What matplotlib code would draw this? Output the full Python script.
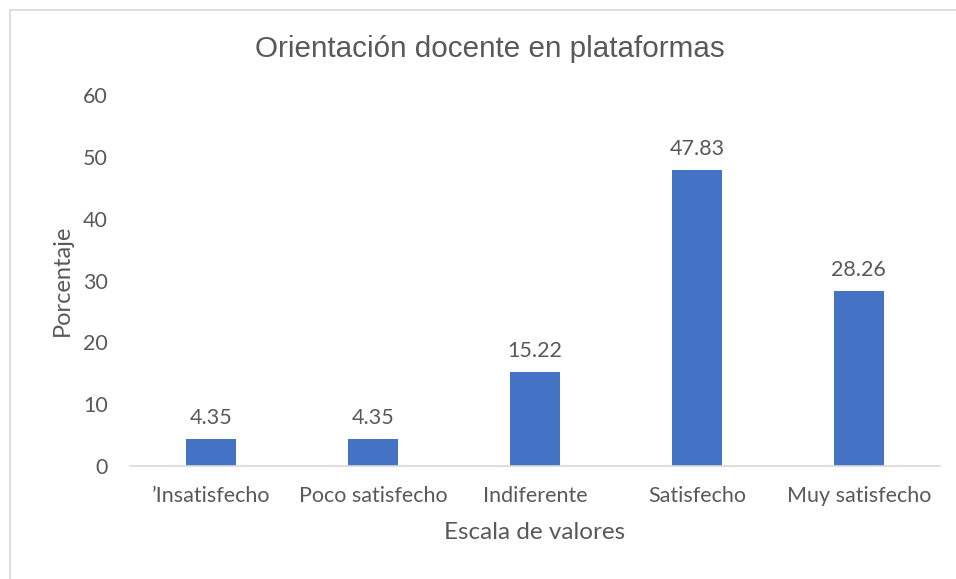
import matplotlib
matplotlib.use("Agg")
import matplotlib.pyplot as plt
from matplotlib.patches import Rectangle

categories = ["\u2019Insatisfecho", "Poco satisfecho", "Indiferente", "Satisfecho", "Muy satisfecho"]
values = [4.35, 4.35, 15.22, 47.83, 28.26]
yticks = [0, 10, 20, 30, 40, 50, 60]

txt = "#595959"
plt.rcParams['font.family'] = ['Lato', 'DejaVu Sans']

fig = plt.figure(figsize=(9.56, 5.79), dpi=100)
ax = fig.add_axes([0.136, 0.195, 0.847, 0.641])

x = list(range(len(categories)))
bars = ax.bar(x, values, width=0.31, color="#4472C4")
for xi, v in zip(x, values):
    ax.annotate(f"{v:.2f}", (xi, v), xytext=(0, 8), textcoords="offset points",
                ha="center", va="bottom", fontsize=15.5, color=txt)

ax.set_xlim(-0.5, len(categories) - 0.5)
ax.set_ylim(0, 60)
ax.set_yticks(yticks)
ax.set_xticks(x)
ax.set_xticklabels(categories)
ax.tick_params(axis="both", length=0, labelsize=15.5, colors=txt)
ax.tick_params(axis="x", pad=14)
ax.tick_params(axis="y", pad=16)
for s in ["top", "right", "left"]:
    ax.spines[s].set_visible(False)
ax.spines["bottom"].set_color("#D9D9D9")
ax.spines["bottom"].set_linewidth(1.2)

ax.set_xlabel("Escala de valores", fontsize=17.5, color=txt, labelpad=12)
ax.set_ylabel("Porcentaje", fontsize=17, color=txt, labelpad=7)
fig.text(0.512, 0.915, "Orientaci\u00f3n docente en plataformas", ha="center", va="center",
         fontsize=21.3, color=txt, family=["Liberation Sans", "DejaVu Sans"])

fig.patches.append(Rectangle((10/956, -0.01), 1.0, 1 - 10/579 + 0.01, transform=fig.transFigure,
                             fill=False, edgecolor="#D9D9D9", linewidth=1.2))

fig.savefig("out.png", dpi=100)
